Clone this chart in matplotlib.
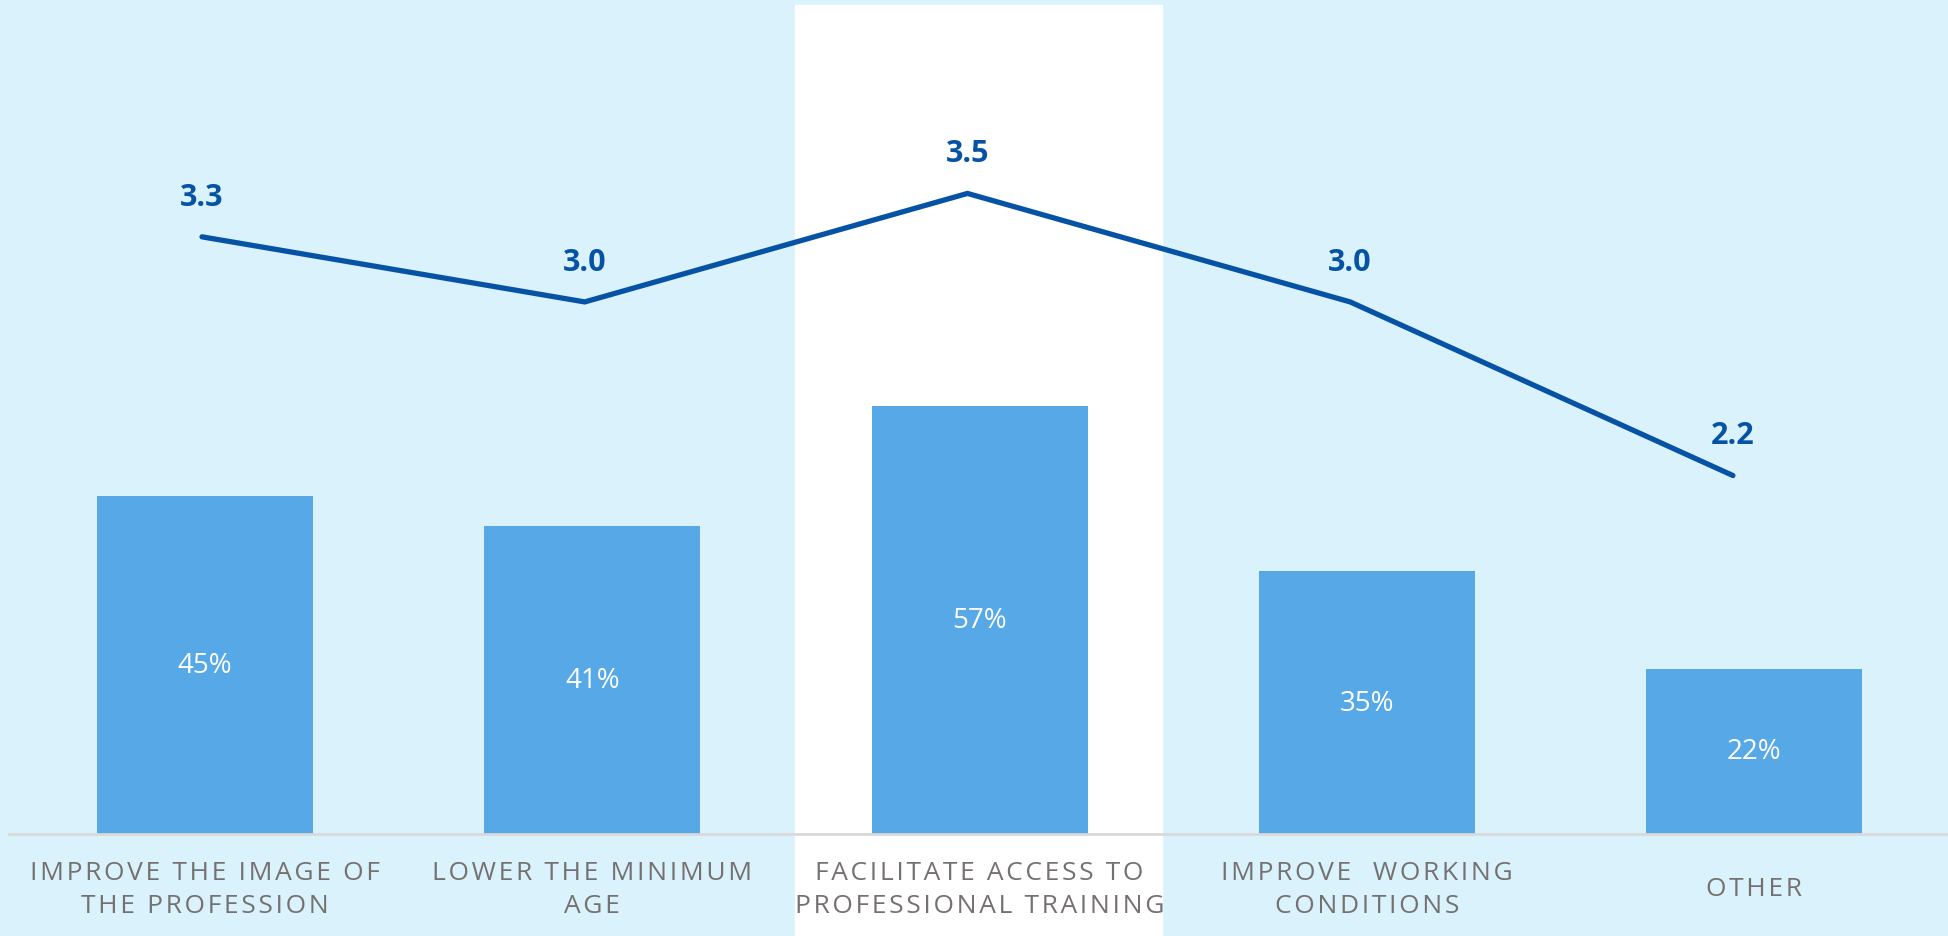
import matplotlib
matplotlib.use("Agg")
import matplotlib.pyplot as plt

# survey results: share of respondents per measure, and average score
categories = ["IMPROVE THE IMAGE OF\nTHE PROFESSION",
              "LOWER THE MINIMUM\nAGE",
              "FACILITATE ACCESS TO\nPROFESSIONAL TRAINING",
              "IMPROVE  WORKING\nCONDITIONS",
              "OTHER"]
share = [45, 41, 57, 35, 22]
score = [3.3, 3.0, 3.5, 3.0, 2.2]
highlight = 2

bg = "#DAF2FC"
bar_col = "#56A8E7"
line_col = "#0652A5"
grey = "#767171"

plt.rcParams["font.family"] = ["Open Sans", "DejaVu Sans"]


def spaced(s):
    # crude letter spacing using hair spaces
    return "\n".join("\u200a".join(line) for line in s.split("\n"))


fig = plt.figure(figsize=(19.48, 9.37), dpi=100, facecolor=bg)
rect = [9 / 1948, 102 / 937, 1939 / 1948, 835 / 937]

ax = fig.add_axes(rect)
ax.set_facecolor("none")
x = list(range(len(categories)))
bars = ax.bar(x, share, width=0.557, color=bar_col, zorder=2)
ax.set_xlim(-0.506, 4.5)
ax.set_ylim(0, 111.3)

# white band behind the highlighted category
ax.axvspan(highlight - 0.477, highlight + 0.47, ymin=-0.1222, ymax=0.9928,
           color="white", clip_on=False, zorder=0)

for b, v in zip(bars, share):
    ax.text(b.get_x() + b.get_width() / 2, v / 2, f"{v}%", color="white",
            fontsize=20, ha="center", va="center", zorder=3)

for i, lab in enumerate(categories):
    ax.text(i, -0.0656, spaced(lab), transform=ax.get_xaxis_transform(),
            ha="center", va="center", multialignment="center",
            fontsize=19, color=grey, linespacing=1.45)

for s in ["top", "left", "right"]:
    ax.spines[s].set_visible(False)
ax.spines["bottom"].set_color("#D9D9D9")
ax.spines["bottom"].set_linewidth(2)
ax.set_xticks([])
ax.set_yticks([])

# average score on its own scale
ax2 = fig.add_axes(rect)
ax2.set_facecolor("none")
ax2.axis("off")
ax2.plot(x, score, color=line_col, lw=3.8, solid_capstyle="round",
         solid_joinstyle="miter", zorder=4)
ax2.set_xlim(-0.5043, 4.562)
ax2.set_ylim(0.548, 4.396)
for xi, v in zip(x, score):
    ax2.annotate(f"{v:.1f}", (xi, v), xytext=(0, 29), textcoords="offset points",
                 ha="center", va="center", fontsize=22, fontweight="bold",
                 color=line_col)

fig.savefig("out.png", dpi=100, facecolor=bg)
